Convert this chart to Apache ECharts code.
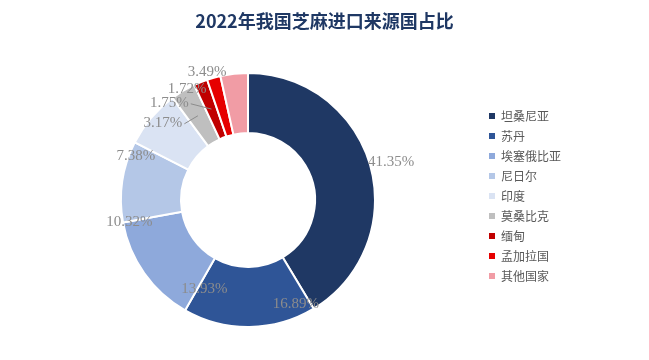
<!DOCTYPE html>
<html>
<head>
<meta charset="utf-8">
<script src="https://cdn.jsdelivr.net/npm/echarts@6/dist/echarts.min.js"></script>
<style>html,body{margin:0;padding:0;background:#fff;}#c{width:649px;height:360px;}</style>
</head>
<body>
<div id="c"></div>
<script>
var titleText = '2022年我国芝麻进口来源国占比';
var categories = ['坦桑尼亚', '苏丹', '埃塞俄比亚', '尼日尔', '印度', '莫桑比克', '缅甸', '孟加拉国', '其他国家'];
var values = [41.35, 16.89, 13.93, 10.32, 7.38, 3.17, 1.75, 1.72, 3.49];
var colors = ['#1F3864', '#2F5597', '#8EA9DB', '#B4C7E7', '#DAE3F3', '#BFBFBF', '#C00000', '#E60000', '#F19CA5'];
// label nudges (pixels) to mimic the reference's "best fit" label placement
var labelNudge = [[-23, -2], [8, -29], [103, 12], [46, 41], [34, 20], [50, 4], [41, 1], [36, 4], [8, 4]];
var withLeader = [false, false, false, false, false, true, true, false, false];

var CX = 248, CY = 200, R0 = 67, R1 = 127;
var chart = echarts.init(document.getElementById('c'));

var sliceData = categories.map(function (n, i) {
  return { name: n, value: values[i], itemStyle: { color: colors[i] } };
});
var labelData = categories.map(function (n, i) {
  return { name: n, value: values[i], labelLine: { show: withLeader[i] } };
});

chart.setOption({
  animation: false,
  title: {
    text: titleText, left: 'center', top: 7,
    textStyle: { fontFamily: 'Noto Sans CJK SC', fontSize: 18, fontWeight: 'bold', color: '#1F3864' }
  },
  legend: {
    orient: 'vertical', left: 482, top: 105,
    itemWidth: 8, itemHeight: 8, itemGap: 8,
    icon: 'rect',
    data: categories,
    textStyle: { fontFamily: 'Noto Sans CJK SC', fontSize: 12, color: '#595959' }
  },
  series: [{
    name: 'slices',
    type: 'pie',
    z: 2,
    center: [CX, CY],
    radius: [R0, R1],
    startAngle: 90,
    clockwise: true,
    itemStyle: { borderColor: '#fff', borderWidth: 2 },
    label: { show: false },
    labelLine: { show: false },
    data: sliceData
  }, {
    name: 'labels',
    type: 'pie',
    z: 5,
    silent: true,
    legendHoverLink: false,
    center: [CX, CY],
    radius: [R0, R1],
    startAngle: 90,
    clockwise: true,
    avoidLabelOverlap: true,
    itemStyle: { color: 'rgba(0,0,0,0)', borderWidth: 0 },
    label: {
      show: true, position: 'outside',
      formatter: function (p) { return p.value.toFixed(2) + '%'; },
      fontFamily: 'Liberation Serif', fontSize: 15, color: '#8C8C8C'
    },
    labelLine: { length: 6, length2: 10, lineStyle: { color: '#8C8C8C', width: 1 } },
    labelLayout: function (p) {
      var i = p.dataIndex;
      var d = labelNudge[i];
      var out = { dx: d[0], dy: d[1] };
      if (withLeader[i] && p.labelLinePoints && p.labelLinePoints.length) {
        var p0 = p.labelLinePoints[0];
        var vx = p0[0] - CX, vy = p0[1] - CY;
        var len = Math.sqrt(vx * vx + vy * vy) || 1;
        var rm = (R0 + R1) / 2 + 1;
        var ax = CX + vx / len * rm, ay = CY + vy / len * rm;
        var r = p.labelRect;
        var sx = r.x + d[0] + r.width + 2, sy = r.y + d[1] + r.height / 2 + 1;
        out.labelLinePoints = [[sx, sy], [(sx + ax) / 2, (sy + ay) / 2], [ax, ay]];
      }
      return out;
    },
    data: labelData
  }]
});
</script>
</body>
</html>
